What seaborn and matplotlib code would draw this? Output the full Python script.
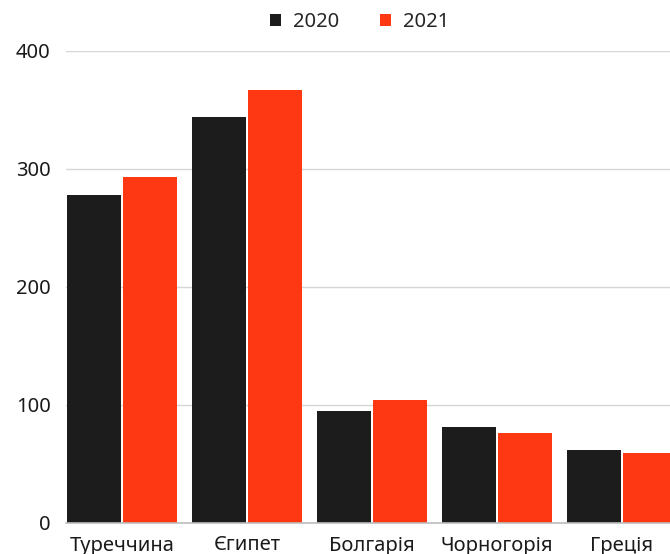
import matplotlib
matplotlib.use("Agg")
import matplotlib.pyplot as plt
import seaborn as sns
import pandas as pd
from matplotlib.patches import Patch

countries = ["Туреччина", "Єгипет", "Болгарія", "Чорногорія", "Греція"]
years = ["2020", "2021"]
values_2020 = [278, 344, 95, 81, 62]
values_2021 = [293, 367, 104, 76, 59]
y_ticks = [0, 100, 200, 300, 400]

colors = {"2020": "#1c1c1c", "2021": "#ff3814"}

df = pd.DataFrame({
    "country": countries * 2,
    "year": ["2020"] * len(countries) + ["2021"] * len(countries),
    "value": values_2020 + values_2021,
})

sns.set_theme(style="white")
plt.rcParams["font.family"] = ["Noto Sans", "DejaVu Sans"]

fig = plt.figure(figsize=(6.7, 5.54), dpi=100)
ax = fig.add_axes([66 / 670, 1 - 523 / 554, 1 - 66 / 670, (523 - 51) / 554])

sns.barplot(data=df, x="country", y="value", hue="year", order=countries,
            hue_order=years, palette=colors, width=0.9, gap=0.04,
            saturation=1, edgecolor="none", ax=ax, legend=False, zorder=3)

ax.set_xlim(-0.45, 4.384)
ax.set_ylim(0, 400)
ax.set_yticks(y_ticks)
ax.set_xlabel("")
ax.set_ylabel("")
ax.grid(axis="y", color="#d6d6d6", linewidth=1, zorder=0)
ax.set_axisbelow(True)
for s in ["top", "right", "left"]:
    ax.spines[s].set_visible(False)
ax.spines["bottom"].set_color("#bdbdbd")
ax.spines["bottom"].set_linewidth(1.2)
ax.spines["bottom"].set_zorder(4)
ax.tick_params(axis="y", length=0, pad=11, labelsize=14.5, labelcolor="#1a1a1a")
ax.tick_params(axis="x", length=0, pad=9, labelsize=14.5, labelcolor="#1a1a1a")

handles = [Patch(facecolor=colors[y], edgecolor="none", label=y) for y in years]
fig.legend(handles=handles, loc="center", bbox_to_anchor=(0.537, 1 - 22 / 554),
           ncol=2, frameon=False, fontsize=14.5, handlelength=0.55, handleheight=0.55,
           handletextpad=0.6, columnspacing=2.0)

fig.savefig("out.png", dpi=100)
